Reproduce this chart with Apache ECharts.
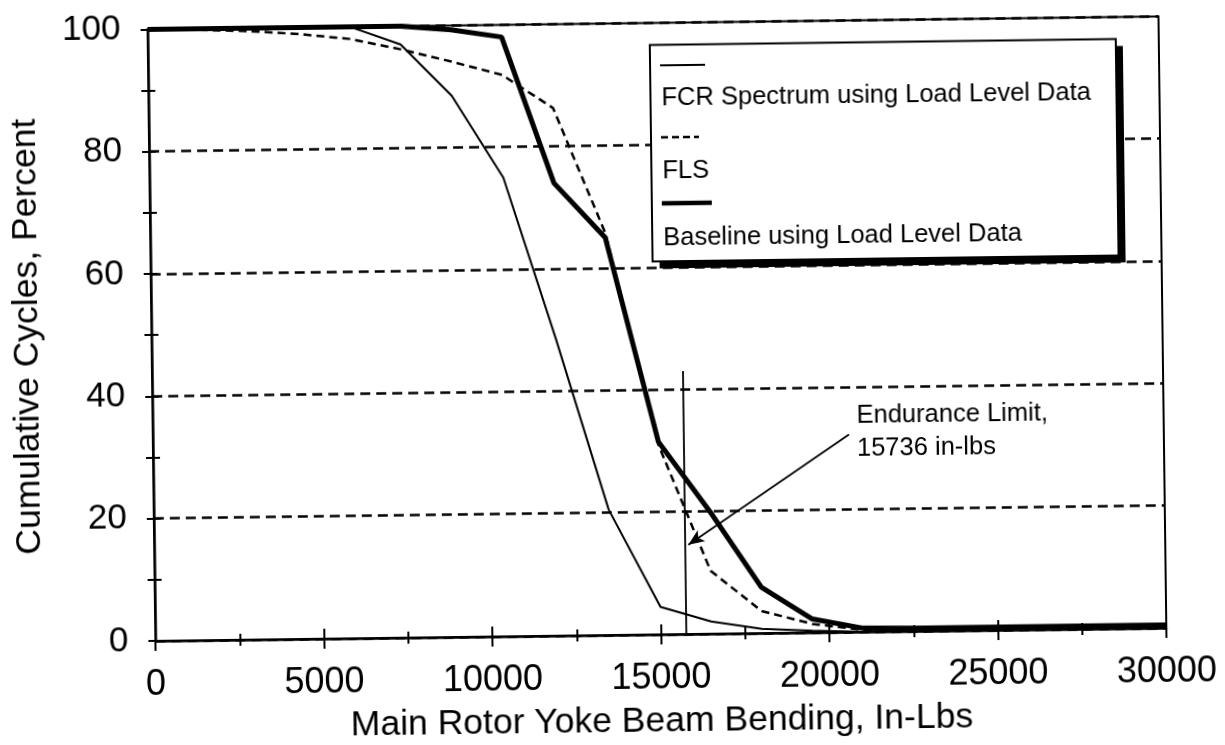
<!DOCTYPE html>
<html>
<head>
<meta charset="utf-8">
<script src="https://cdn.jsdelivr.net/npm/echarts@6/dist/echarts.min.js"></script>
<style>
  html, body { margin: 0; padding: 0; background: #ffffff; }
  #chart { width: 1225px; height: 745px; transform: rotate(-0.735deg); transform-origin: 50% 50%; }
</style>
</head>
<body>
<div id="chart"></div>
<script>
// ---- data ----
const xValues = [0, 1500, 3000, 4500, 6000, 7500, 9000, 10500, 12000, 13500, 15000,
                 16500, 18000, 19500, 21000, 22500, 24000, 25500, 27000, 28500, 30000];
const fcrSpectrum = [100, 100, 100, 100, 100, 97, 88.5, 75, 48.5, 20.5, 4.5,
                     2, 0.7, 0.3, 0, 0, 0, 0, 0, 0, 0];
const flsValues = [100, 99.8, 99.5, 98.9, 98, 96.2, 94.1, 91.8, 86.3, 65.8, 31,
                   10.3, 3.6, 1.4, 0.3, 0.2, 0.2, 0.2, 0.2, 0.2, 0.2];
const baselineValues = [100, 100, 100, 100, 100, 100, 99.3, 98, 74, 65, 31.5,
                        20, 7.5, 2.2, 0.6, 0.5, 0.5, 0.5, 0.5, 0.5, 0.5];
const seriesNames = ['FCR Spectrum using Load Level Data', 'FLS', 'Baseline using Load Level Data'];
const enduranceLimit = 15736;
const enduranceLineTop = 43;
const arrowFrom = [20659, 32.3];
const arrowTo = [15849, 14.6];
const annotationLines = ['Endurance Limit,', '15736 in-lbs'];
const xTitle = 'Main Rotor Yoke Beam Bending, In-Lbs';
const yTitle = 'Cumulative Cycles, Percent';

const FONT = '"Liberation Sans", Arial, Helvetica, sans-serif';
const pairs = (vals) => xValues.map((x, i) => [x, vals[i]]);

const chart = echarts.init(document.getElementById('chart'), null, { renderer: 'canvas' });

const baseX = {
  type: 'value', min: 0, max: 30000, interval: 5000, gridIndex: 0, position: 'bottom'
};
const baseY = {
  type: 'value', min: 0, max: 100, interval: 20, gridIndex: 0, position: 'left'
};

const option = {
  backgroundColor: '#ffffff',
  animation: false,
  grid: {
    left: 152, right: 62, top: 23.4, bottom: 107.9,
    show: true, borderColor: '#000', borderWidth: 2, backgroundColor: 'transparent'
  },
  xAxis: [
    Object.assign({}, baseX, {
      axisLine: { show: true, lineStyle: { color: '#000', width: 2.5 } },
      axisTick: { show: true, inside: false, length: 10, lineStyle: { color: '#000', width: 2 } },
      minorTick: { show: true, splitNumber: 2, length: 6, lineStyle: { color: '#000', width: 2 } },
      axisLabel: { color: '#000', fontSize: 36, fontFamily: FONT, margin: 26,
                   formatter: (v) => String(v) },
      splitLine: { show: false },
      name: xTitle, nameLocation: 'middle', nameGap: 69,
      nameTextStyle: { color: '#000', fontSize: 35.5, fontFamily: FONT }
    }),
    Object.assign({}, baseX, {
      axisLine: { show: false },
      axisTick: { show: true, inside: true, length: 10, lineStyle: { color: '#000', width: 2 } },
      minorTick: { show: true, splitNumber: 2, length: 6, lineStyle: { color: '#000', width: 2 } },
      axisLabel: { show: false },
      splitLine: { show: false }
    })
  ],
  yAxis: [
    Object.assign({}, baseY, {
      axisLine: { show: true, lineStyle: { color: '#000', width: 2.5 } },
      axisTick: { show: true, inside: false, length: 7, lineStyle: { color: '#000', width: 2 } },
      minorTick: { show: true, splitNumber: 2, length: 7, lineStyle: { color: '#000', width: 2 } },
      axisLabel: { color: '#000', fontSize: 35, fontFamily: FONT, margin: 27,
                   formatter: (v) => String(v) },
      splitLine: { show: true, lineStyle: { color: '#000', width: 2.5, type: [10, 6] } },
      name: yTitle, nameLocation: 'middle', nameGap: 106, nameRotate: 90,
      nameTextStyle: { color: '#000', fontSize: 35.5, fontFamily: FONT }
    }),
    Object.assign({}, baseY, {
      axisLine: { show: false },
      axisTick: { show: true, inside: true, length: 7, lineStyle: { color: '#000', width: 2 } },
      minorTick: { show: true, splitNumber: 2, length: 7, lineStyle: { color: '#000', width: 2 } },
      axisLabel: { show: false },
      splitLine: { show: false }
    })
  ],
  legend: { show: false },
  series: [
    {
      name: seriesNames[0], type: 'line', data: pairs(fcrSpectrum),
      xAxisIndex: 0, yAxisIndex: 0, showSymbol: false, symbol: 'none', z: 3,
      lineStyle: { color: '#000', width: 2 }
    },
    {
      name: seriesNames[1], type: 'line', data: pairs(flsValues),
      xAxisIndex: 0, yAxisIndex: 0, showSymbol: false, symbol: 'none', z: 3,
      lineStyle: { color: '#000', width: 2.5, type: [8, 5] }
    },
    {
      name: seriesNames[2], type: 'line', data: pairs(baselineValues),
      xAxisIndex: 0, yAxisIndex: 0, showSymbol: false, symbol: 'none', z: 4,
      lineStyle: { color: '#000', width: 5 }
    },
    {
      name: 'Endurance Limit', type: 'line', data: [],
      xAxisIndex: 0, yAxisIndex: 0, z: 5,
      markLine: {
        silent: true, animation: false,
        label: { show: false },
        lineStyle: { color: '#000', width: 1.8, type: 'solid' },
        data: [
          [ { coord: [enduranceLimit, 0], symbol: 'none' },
            { coord: [enduranceLimit, enduranceLineTop], symbol: 'none' } ],
          [ { coord: arrowFrom, symbol: 'none' },
            { coord: arrowTo, symbol: 'arrow', symbolSize: [10, 16] } ]
        ]
      }
    }
  ],
  graphic: [
    // legend box with shadow
    { type: 'rect', z: 100, shape: { x: 661, y: 52.5, width: 466, height: 216.5 }, style: { fill: '#000' } },
    { type: 'rect', z: 101, shape: { x: 654, y: 45.5, width: 466, height: 216.5 },
      style: { fill: '#fff', stroke: '#000', lineWidth: 2 } },
    { type: 'line', z: 102, shape: { x1: 664, y1: 66, x2: 709, y2: 66 }, style: { stroke: '#000', lineWidth: 2 } },
    { type: 'text', z: 102, left: 665, top: 86, style: { text: seriesNames[0], fill: '#000', font: '25.5px ' + FONT } },
    { type: 'line', z: 102, shape: { x1: 664, y1: 138, x2: 702, y2: 138 }, style: { stroke: '#000', lineWidth: 2.5, lineDash: [7, 4] } },
    { type: 'text', z: 102, left: 665, top: 159, style: { text: seriesNames[1], fill: '#000', font: '25.5px ' + FONT } },
    { type: 'line', z: 102, shape: { x1: 664, y1: 204, x2: 714, y2: 204 }, style: { stroke: '#000', lineWidth: 4.5 } },
    { type: 'text', z: 102, left: 665, top: 226, style: { text: seriesNames[2], fill: '#000', font: '25.5px ' + FONT } },
    // annotation
    { type: 'text', z: 102, left: 856, top: 402,
      style: { text: annotationLines.join('\n'), fill: '#000', font: '25.5px ' + FONT, lineHeight: 33 } }
  ]
};
chart.setOption(option);
</script>
</body>
</html>
